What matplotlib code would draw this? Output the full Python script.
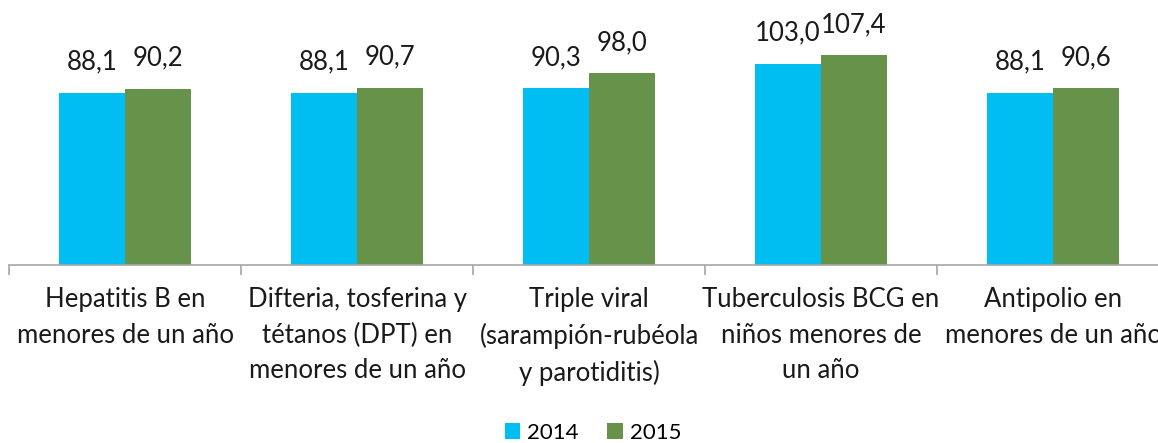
import matplotlib
matplotlib.use('Agg')
import matplotlib.pyplot as plt
import numpy as np

categories = ['Hepatitis B en\nmenores de un año',
              'Difteria, tosferina y\ntétanos (DPT) en\nmenores de un año',
              'Triple viral\n(sarampión-rubéola\ny parotiditis)',
              'Tuberculosis BCG en\nniños menores de\nun año',
              'Antipolio en\nmenores de un año']
years = ['2014', '2015']
values_2014 = [88.1, 88.1, 90.3, 103.0, 88.1]
values_2015 = [90.2, 90.7, 98.0, 107.4, 90.6]

colors = {'2014': '#00BEF2', '2015': '#66924A'}

plt.rcParams['font.family'] = ['Lato', 'DejaVu Sans']

W, H = 1158, 443
fig = plt.figure(figsize=(W / 100, H / 100), dpi=100)

# axes spans past right edge like the original crop
x0, x1 = 9, 1169
base_y = 265
px_per_unit = 1.955
ymax = 130
ax = fig.add_axes((x0 / W, (H - base_y) / H, (x1 - x0) / W, ymax * px_per_unit / H))

x = np.arange(len(categories))
bw = 0.285
b1 = ax.bar(x - bw / 2, values_2014, bw, color=colors['2014'], label='2014')
b2 = ax.bar(x + bw / 2, values_2015, bw, color=colors['2015'], label='2015')

for bars, vals in ((b1, values_2014), (b2, values_2015)):
    for rect, v in zip(bars, vals):
        ax.annotate(f'{v:.1f}'.replace('.', ','),
                    (rect.get_x() + rect.get_width() / 2, rect.get_height()),
                    xytext=(0, 13), textcoords='offset points',
                    ha='center', va='bottom', fontsize=18.5, color='#1a1a1a')

ax.set_xlim(-0.5, len(categories) - 0.5)
ax.set_ylim(0, ymax)
ax.set_yticks([])
for s in ('top', 'right', 'left'):
    ax.spines[s].set_visible(False)
ax.spines['bottom'].set_color('#A6A6A6')
ax.spines['bottom'].set_linewidth(1.2)

ax.set_xticks(np.arange(len(categories) + 1) - 0.5)
ax.set_xticklabels([])
ax.tick_params(axis='x', length=7, width=1.2, color='#A6A6A6')
ax.set_xticks(x, minor=True)
ax.set_xticklabels(categories, minor=True, fontsize=18.5, color='#1a1a1a', linespacing=1.52)
ax.tick_params(axis='x', which='minor', length=0, pad=16)

fig.legend(handles=[b1, b2], labels=years, loc='center', bbox_to_anchor=(593 / W, 1 - 433 / H),
           ncol=2, frameon=False, fontsize=16, handlelength=0.7, handleheight=0.7,
           handletextpad=0.3, columnspacing=1.3)

fig.savefig('out.png', dpi=100)
